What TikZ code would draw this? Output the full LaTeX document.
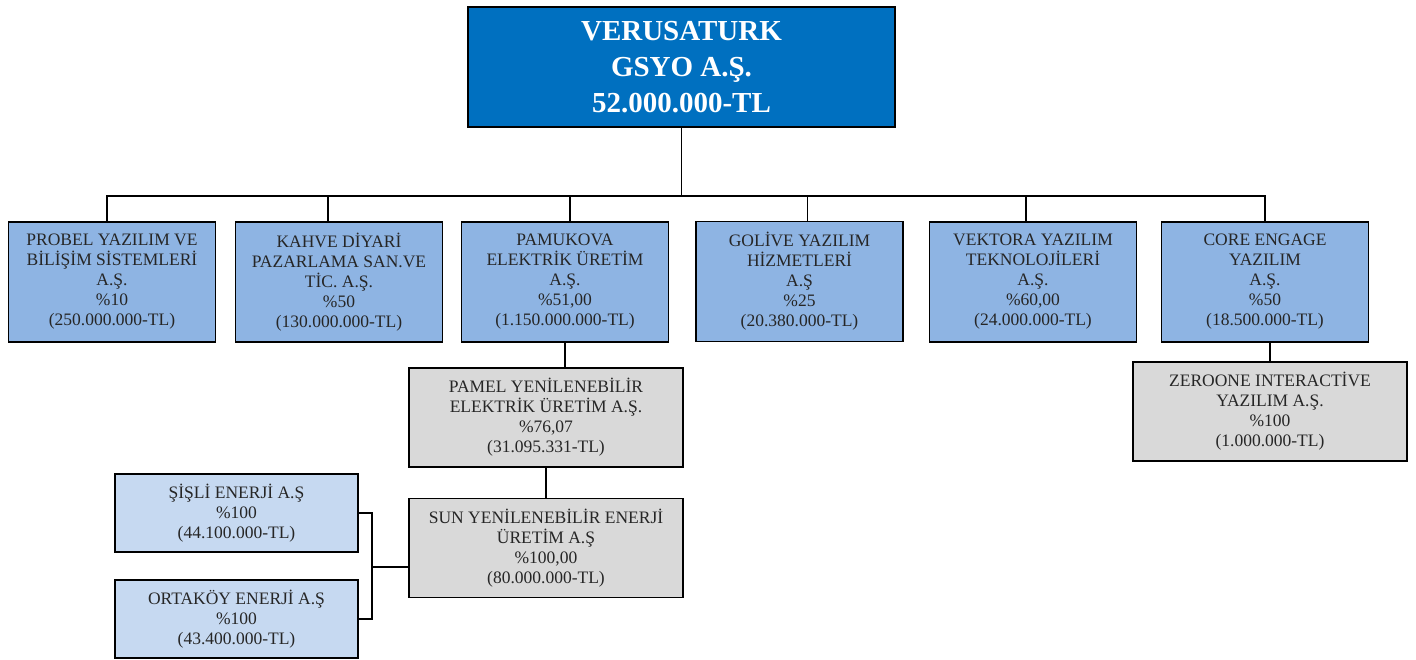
\documentclass[tikz,border=0pt]{standalone}
\usepackage{fontspec}
\setmainfont{Liberation Serif}
\usepackage{tikz}
\usetikzlibrary{positioning}
\usetikzlibrary{calc}

\definecolor{topblue}{HTML}{0070C0}
\definecolor{boxblue}{HTML}{8EB4E3}
\definecolor{paleblue}{HTML}{C6D9F1}
\definecolor{boxgray}{HTML}{D9D9D9}
\definecolor{txt}{HTML}{262626}

\begin{document}
\begin{tikzpicture}[x=1pt,y=-1pt]
	\useasboundingbox (0,0) rectangle (1416,659);
	\tikzset{unit/.style={rectangle, draw=black, line width=1.3pt, inner sep=0pt,
	                      align=center, text=txt, font=\fontsize{17.5}{20}\selectfont}}

	\node[unit, fill=topblue, text=white, minimum width=427, minimum height=120,
	      font=\fontsize{29}{36}\selectfont\bfseries] (top) at (681.5,67)
	      {VERUSATURK\\GSYO A.Ş.\\52.000.000-TL};

	\begin{scope}[every node/.style={unit, fill=boxblue, minimum width=207, minimum height=120}]
		\node (probel) at (112,282) {PROBEL YAZILIM VE\\BİLİŞİM SİSTEMLERİ\\A.Ş.\\\%10\\(250.000.000-TL)};
		\node (kahve) at (339,282) {KAHVE DİYARİ\\PAZARLAMA SAN.VE\\TİC. A.Ş.\\\%50\\(130.000.000-TL)};
		\node (pamukova) at (565,282) {PAMUKOVA\\ELEKTRİK ÜRETİM\\A.Ş.\\\%51,00\\(1.150.000.000-TL)};
		\node (golive) at (799.5,281.5) {GOLİVE YAZILIM\\HİZMETLERİ\\A.Ş\\\%25\\(20.380.000-TL)};
		\node (vektora) at (1033,282) {VEKTORA YAZILIM\\TEKNOLOJİLERİ\\A.Ş.\\\%60,00\\(24.000.000-TL)};
		\node (core) at (1265,282) {CORE ENGAGE\\YAZILIM\\A.Ş.\\\%50\\(18.500.000-TL)};
	\end{scope}

	\begin{scope}[every node/.style={unit, fill=boxgray, minimum width=274, minimum height=99}]
		\node (pamel) at (546,417.5) {PAMEL YENİLENEBİLİR\\ELEKTRİK ÜRETİM A.Ş.\\\%76,07\\(31.095.331-TL)};
		\node (sun) at (546,548) {SUN YENİLENEBİLİR ENERJİ\\ÜRETİM A.Ş\\\%100,00\\(80.000.000-TL)};
		\node (zeroone) at (1270,411.5) {ZEROONE INTERACTİVE\\YAZILIM A.Ş.\\\%100\\(1.000.000-TL)};
	\end{scope}

	\begin{scope}[every node/.style={unit, fill=paleblue, minimum width=243, minimum height=78}]
		\node (sisli) at (236.5,513) {ŞİŞLİ ENERJİ A.Ş\\\%100\\(44.100.000-TL)};
		\node (ortakoy) at (236.5,619) {ORTAKÖY ENERJİ A.Ş\\\%100\\(43.400.000-TL)};
	\end{scope}

	% connectors
	\coordinate (bar) at (0,196);
	\coordinate (fork) at (372,567);
	\begin{scope}[line width=1.6pt]
		\draw (top.south) -- (top.south |- bar);
		\draw ([xshift=-5pt]probel.north) -- ([xshift=-5pt]probel.north |- bar) -- (core.north |- bar) -- (core.north);
		\draw ([xshift=-11pt]kahve.north) -- ([xshift=-11pt]kahve.north |- bar);
		\draw ([xshift=5pt]pamukova.north) -- ([xshift=5pt]pamukova.north |- bar);
		\draw ([xshift=8pt]golive.north) -- ([xshift=8pt]golive.north |- bar);
		\draw ([xshift=-7pt]vektora.north) -- ([xshift=-7pt]vektora.north |- bar);
		\draw (pamukova.south) -- (pamukova.south |- pamel.north);
		\draw (pamel) -- (sun);
		\draw (zeroone.north |- core.south) -- (zeroone.north);
		\draw (sisli.east) -| (fork) |- (ortakoy.east);
		\draw (fork) -- (fork -| sun.west);
	\end{scope}
\end{tikzpicture}
\end{document}
